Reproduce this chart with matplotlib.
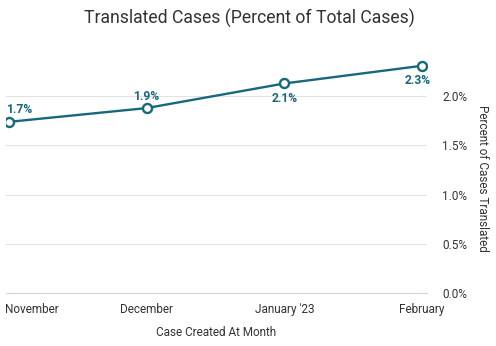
import matplotlib
matplotlib.use("Agg")
import matplotlib.pyplot as plt
from matplotlib.transforms import ScaledTranslation

months = ["November", "December", "January '23", "February"]
pct = [1.74, 1.88, 2.13, 2.31]
labels = ["1.7%", "1.9%", "2.1%", "2.3%"]
yticks = [0.0, 0.5, 1.0, 1.5, 2.0]

teal = "#17687d"
plt.rcParams['font.family'] = ['Roboto', 'DejaVu Sans']

fig = plt.figure(figsize=(4.96, 3.46), dpi=100)
ax = fig.add_axes([0.012, 0.153, 0.849, 0.711])

x = list(range(len(months)))
ax.plot(x, pct, color=teal, linewidth=1.7, zorder=3)
ax.plot(x, pct, linestyle='none', marker='o', markersize=6.5,
        markerfacecolor='white', markeredgecolor=teal, markeredgewidth=1.7, zorder=4)

# data labels: first two above, last two below
offsets = [(7, 4, 'center', 'bottom'), (0, 4, 'center', 'bottom'),
           (0, -6, 'center', 'top'), (-3, -6, 'center', 'top')]
for xi, yi, lab, (dx, dy, ha, va) in zip(x, pct, labels, offsets):
    ax.annotate(lab, (xi, yi), xytext=(dx, dy), textcoords='offset points',
                ha=ha, va=va, color=teal, fontsize=8.7, fontweight='bold')

ax.set_xlim(-0.022, 3.036)
ax.set_ylim(0, 2.5)
ax.set_yticks(yticks)
ax.set_yticklabels(["%.1f%%" % v for v in yticks])
ax.yaxis.tick_right()
ax.yaxis.set_label_position('right')
ax.tick_params(axis='y', length=0, pad=11, labelsize=8.5, labelcolor='#333333')

ax.set_xticks(x)
ax.set_xticklabels(months)
ax.tick_params(axis='x', length=0, pad=7, labelsize=8.5, labelcolor='#333333')
xt = ax.get_xticklabels()
xt[0].set_horizontalalignment('left')
xt[0].set_transform(xt[0].get_transform() + ScaledTranslation(-3 / 72, 0, fig.dpi_scale_trans))

ax.grid(axis='y', color='#e3e3e3', linewidth=0.8)
ax.set_axisbelow(True)
for s in ['top', 'left', 'right']:
    ax.spines[s].set_visible(False)
ax.spines['bottom'].set_color('#cfd8dc')
ax.spines['bottom'].set_linewidth(0.8)

ax.set_xlabel("Case Created At Month", fontsize=8.5, color='#333333')
ax.set_ylabel("Percent of Cases Translated", fontsize=8.5, color='#333333',
              rotation=-90, va='center')
ax.yaxis.set_label_coords(1.131, 0.467)
ax.xaxis.set_label_coords(0.5, -0.135)

fig.suptitle("Translated Cases (Percent of Total Cases)", x=0.503, y=0.975,
             fontsize=12.7, color='#333333')

fig.savefig("out.png", dpi=100)
